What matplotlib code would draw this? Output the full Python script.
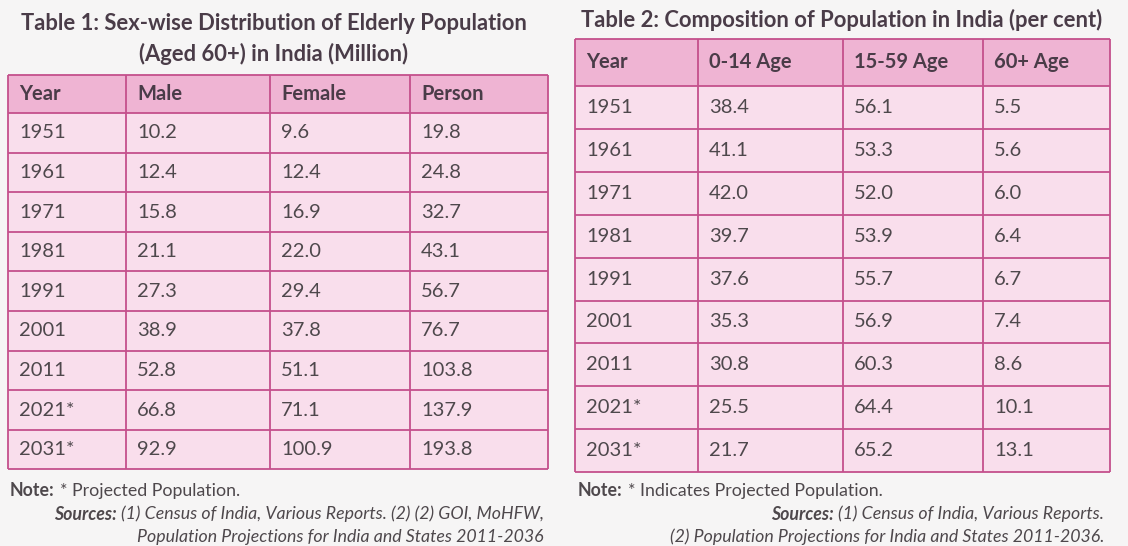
import matplotlib
matplotlib.use("Agg")
import matplotlib.pyplot as plt
from matplotlib.patches import Rectangle

# ---------------- data ----------------
t1_title = ["Table 1: Sex-wise Distribution of Elderly Population",
            "(Aged 60+) in India (Million)"]
t1_cols = ["Year", "Male", "Female", "Person"]
t1_years = ["1951", "1961", "1971", "1981", "1991", "2001", "2011", "2021*", "2031*"]
t1_male = ["10.2", "12.4", "15.8", "21.1", "27.3", "38.9", "52.8", "66.8", "92.9"]
t1_female = ["9.6", "12.4", "16.9", "22.0", "29.4", "37.8", "51.1", "71.1", "100.9"]
t1_person = ["19.8", "24.8", "32.7", "43.1", "56.7", "76.7", "103.8", "137.9", "193.8"]
t1_note = "* Projected Population."
t1_src1 = "(1) Census of India, Various Reports. (2) (2) GOI, MoHFW,"
t1_src2 = "Population Projections for India and States 2011-2036"

t2_title = "Table 2: Composition of Population in India (per cent)"
t2_cols = ["Year", "0-14 Age", "15-59 Age", "60+ Age"]
t2_years = ["1951", "1961", "1971", "1981", "1991", "2001", "2011", "2021*", "2031*"]
t2_young = ["38.4", "41.1", "42.0", "39.7", "37.6", "35.3", "30.8", "25.5", "21.7"]
t2_work = ["56.1", "53.3", "52.0", "53.9", "55.7", "56.9", "60.3", "64.4", "65.2"]
t2_old = ["5.5", "5.6", "6.0", "6.4", "6.7", "7.4", "8.6", "10.1", "13.1"]
t2_note = "* Indicates Projected Population."
t2_src1 = "(1) Census of India, Various Reports."
t2_src2 = "(2) Population Projections for India and States 2011-2036."

# ---------------- style ----------------
FONT = "Lato"
HEAD_BG = "#efb4d3"
BODY_BG = "#f9deec"
BORDER = "#c4508c"
TXT = "#4e484c"
HEAD_TXT = "#4a3c48"
PAGE = "#f6f5f5"
FS_TITLE = 15.8
FS_HEAD = 14.5
FS_BODY = 14.5
FS_NOTE = 12.8

fig = plt.figure(figsize=(11.28, 5.46), dpi=100, facecolor=PAGE)
ax = fig.add_axes([0, 0, 1, 1])
ax.set_xlim(0, 1128)
ax.set_ylim(546, 0)
ax.axis("off")
renderer = fig.canvas.get_renderer()


def draw_table(x_edges, top, head_h, row_h, cols, columns):
    nrows = len(columns[0])
    bottom = top + head_h + nrows * row_h
    left, right = x_edges[0], x_edges[-1]
    ax.add_patch(Rectangle((left, top), right - left, head_h, facecolor=HEAD_BG, edgecolor="none"))
    ax.add_patch(Rectangle((left, top + head_h), right - left, nrows * row_h,
                           facecolor=BODY_BG, edgecolor="none"))
    for j, c in enumerate(cols):
        ax.text(x_edges[j] + 11, top + head_h / 2, c, fontsize=FS_HEAD, fontweight="bold",
                color=HEAD_TXT, family=FONT, va="center", ha="left")
    for i in range(nrows):
        yc = top + head_h + (i + 0.5) * row_h
        for j, col in enumerate(columns):
            ax.text(x_edges[j] + 11, yc, col[i], fontsize=FS_BODY, color=TXT,
                    family=FONT, va="center", ha="left")
    for i in range(nrows + 2):
        y = top if i == 0 else top + head_h + (i - 1) * row_h
        ax.plot([left, right], [y, y], color=BORDER, lw=1.3, solid_capstyle="butt")
    for x in x_edges:
        ax.plot([x, x], [top, bottom], color=BORDER, lw=1.3, solid_capstyle="butt")
    return bottom


def note_line(x, y, body):
    t = ax.text(x, y, "Note:", fontsize=FS_NOTE, fontweight="bold", color=TXT,
                family=FONT, va="center")
    x1 = t.get_window_extent(renderer=renderer).x1
    ax.text(x1 + 5, y, body, fontsize=FS_NOTE, color=TXT, family=FONT, va="center")


def source_line(xr, y, body):
    t = ax.text(xr, y, body, fontsize=FS_NOTE, style="italic", color=TXT, family=FONT,
                va="center", ha="right")
    x0 = t.get_window_extent(renderer=renderer).x0
    ax.text(x0 - 4, y, "Sources:", fontsize=FS_NOTE, fontweight="bold", style="italic",
            color=TXT, family=FONT, va="center", ha="right")


# ---------------- Table 1 ----------------
ax.text(274, 24, t1_title[0], fontsize=FS_TITLE, fontweight="bold", color=HEAD_TXT,
        family=FONT, ha="center", va="center")
ax.text(274, 54, t1_title[1], fontsize=FS_TITLE, fontweight="bold", color=HEAD_TXT,
        family=FONT, ha="center", va="center")
draw_table([8, 126, 270, 410, 548], 75, 38, 39.6, t1_cols,
           [t1_years, t1_male, t1_female, t1_person])
note_line(10, 491, t1_note)
source_line(544, 514, t1_src1)
ax.text(544, 537, t1_src2, fontsize=FS_NOTE, style="italic", color=TXT, family=FONT,
        va="center", ha="right")

# ---------------- Table 2 ----------------
ax.text(842, 20, t2_title, fontsize=FS_TITLE, fontweight="bold", color=HEAD_TXT,
        family=FONT, ha="center", va="center")
draw_table([575, 698, 843, 983, 1110], 39, 47, 42.9, t2_cols,
           [t2_years, t2_young, t2_work, t2_old])
note_line(578, 491, t2_note)
source_line(1104, 514, t2_src1)
ax.text(1104, 537, t2_src2, fontsize=FS_NOTE, style="italic", color=TXT, family=FONT,
        va="center", ha="right")

fig.savefig("out.png", dpi=100, facecolor=PAGE)
